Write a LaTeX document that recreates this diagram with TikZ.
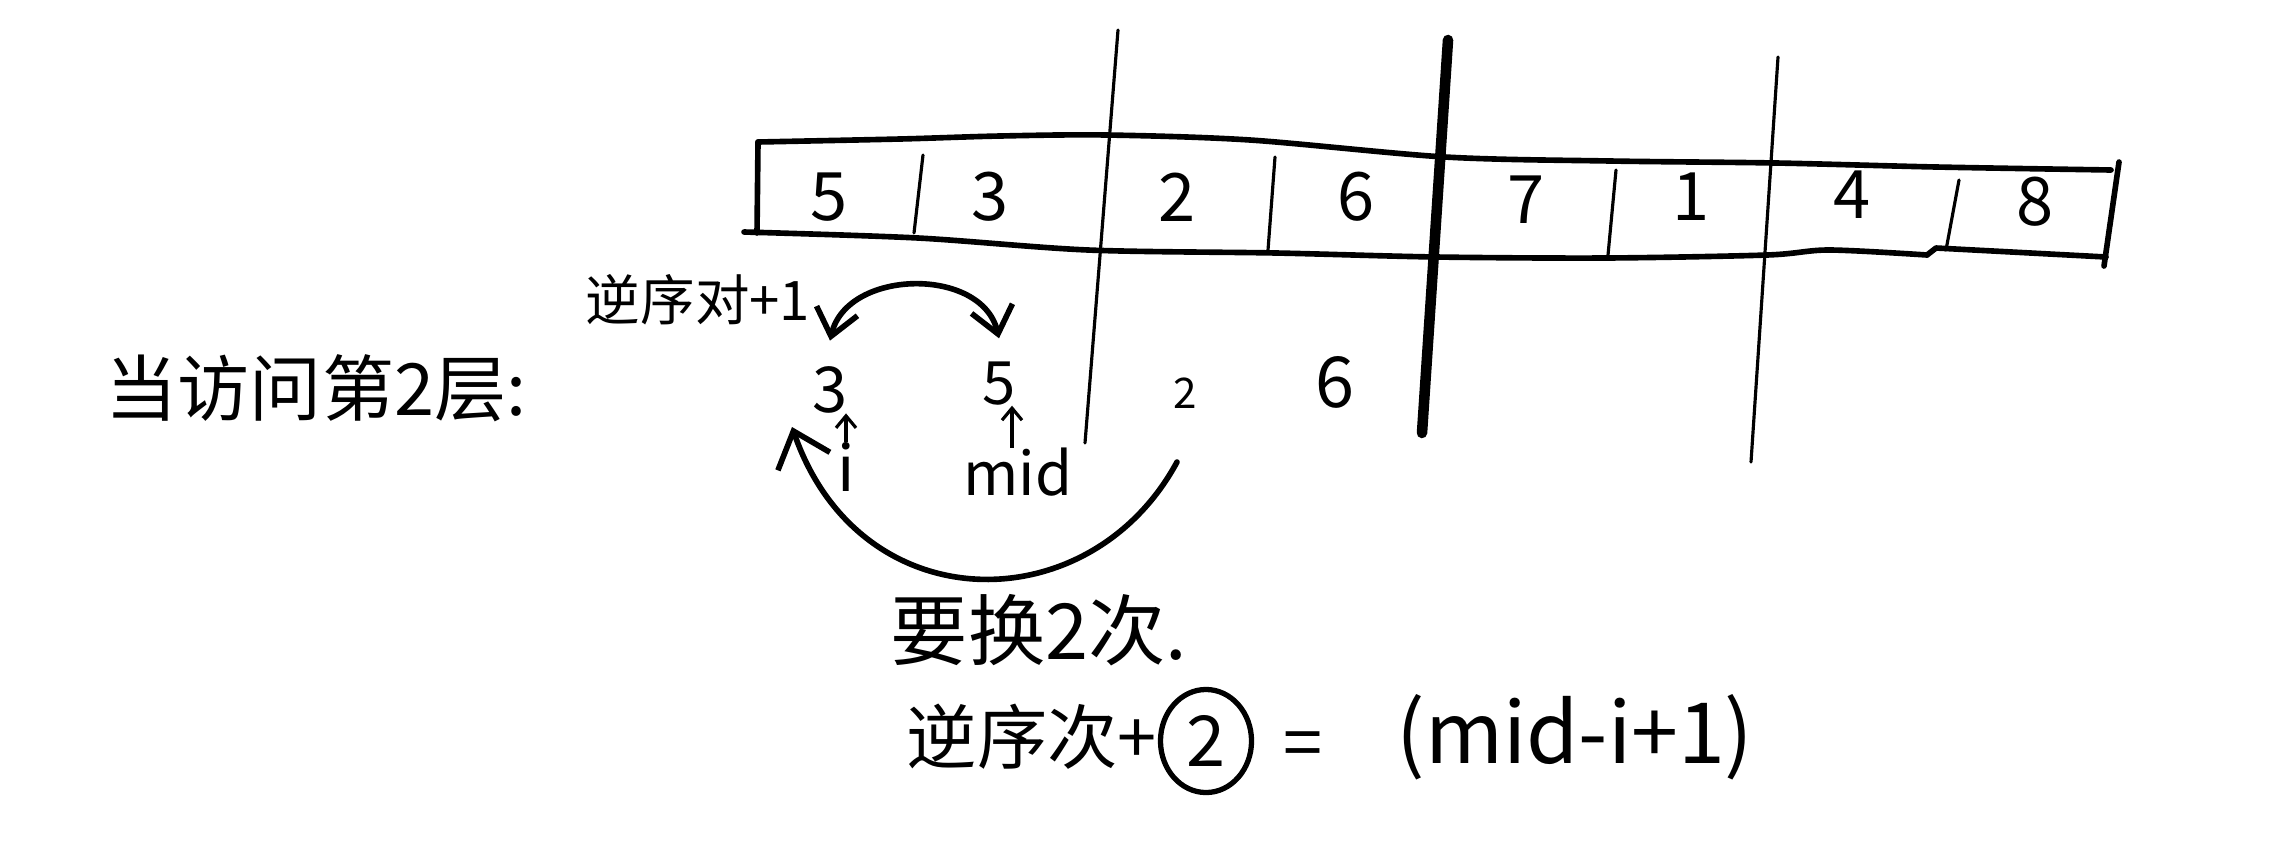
\documentclass[tikz,border=0pt]{standalone}
\usepackage{fontspec}
\setmainfont{Noto Sans CJK SC}
\usetikzlibrary{arrows.meta,shapes.geometric}
\newcommand{\fs}[1]{\fontsize{#1}{#1}\selectfont}
\tikzset{
  hand/.style={line width=1.6pt, line cap=round, line join=round},
  thinline/.style={line width=0.9pt, line cap=round},
  boldline/.style={line width=3pt, line cap=round},
  lbl/.style={inner sep=0pt, outer sep=0pt},
  cell/.style={lbl, font=\fs{19pt}},
  swaparrow/.style={hand, -{Straight Barb[length=3.2mm,width=5.5mm]}},
  bothways/.style={hand, {Straight Barb[length=2.6mm,width=4.2mm]}-{Straight Barb[length=2.6mm,width=4.2mm]}},
  tinyarrow/.style={line width=0.9pt, -{Straight Barb[length=1.2mm,width=2mm]}},
}
\begin{document}
\begin{tikzpicture}[x=0.01cm,y=-0.01cm]
\useasboundingbox (0,0) rectangle (2294,851);
\fill[white] (0,0) rectangle (2294,851);

% array box (hand drawn)
\draw[hand] plot[smooth] coordinates {(758,142) (900,139) (1000,136) (1106,135) (1250,140) (1445,157) (1610,161) (1776,163) (1936,167) (2111,170)};
\draw[hand] plot[smooth] coordinates {(744,232) (918,238) (1088,250) (1276,253) (1436,257) (1606,258) (1767,255) (1829,250) (1927,255)};
\draw[hand] (1927,255) -- (1936,248) -- (2106,257);
\draw[hand] (758,142) -- (757,233);
\draw[hand] (2119,162) -- (2104,266);
% cell dividers
\draw[thinline] (923,155) -- (914,233);
\draw[thinline] (1275,157) -- (1268,250);
\draw[thinline] (1616,170) -- (1608,255);
\draw[thinline] (1959,180) -- (1946,250);
% long split lines
\draw[thinline] (1118,30) -- (1085,443);
\draw[boldline] (1448,40) -- (1422,433);
\draw[thinline] (1778,57) -- (1751,462);

% array values
\node[cell] (a1) at (829,197) {5};
\node[cell] (a2) at (990,197) {3};
\node[cell] (a3) at (1177,197) {2};
\node[cell] (a4) at (1356,197) {6};
\node[cell] (a5) at (1526,200) {7};
\node[cell] (a6) at (1691,197) {1};
\node[cell] (a7) at (1852,195) {4};
\node[cell] (a8) at (2035,202) {8};

% title
\node[lbl, font=\fs{20.5pt}] (title) at (316,388) {当访问第2层:};

% second level values
\node[lbl, font=\fs{18pt}] (n3) at (830,390) {3};
\node[lbl, font=\fs{17pt}] (n5) at (999,384) {5};
\node[lbl, font=\fs{12pt}] (n2) at (1185,393) {2};
\node[lbl, font=\fs{20pt}] (n6) at (1335,382) {6};
\node[lbl, font=\fs{18pt}] (ni) at (846,467) {i};
\node[lbl, font=\fs{17pt}] (nmid) at (1018,472) {mid};

\draw[tinyarrow] (ni.north) -- (ni.north |- n3.south);
\draw[tinyarrow] ([xshift=-0.06cm]nmid.north) -- ([xshift=-0.06cm]nmid.north |- n5.south);

% reverse pair label and swap arcs
\node[lbl, font=\fs{15.5pt}] (rp) at (698,300) {逆序对+1};
\draw[bothways] ([yshift=0.26cm]n3.north) .. controls +(17,-72) and +(-17,-72) .. ([yshift=0.24cm]n5.north);

\coordinate (swapS) at (1177,462);
\coordinate (swapE) at (792,427);
\draw[swaparrow] (swapS) .. controls (1090,623) and (860,623) .. (swapE);

% bottom texts
\node[lbl, font=\fs{22pt}] (twice) at (1039,630) {要换2次.};
\node[lbl, font=\fs{20pt}] (cnt) at (1032,737) {逆序次+};
\node[lbl, draw, line width=1.5pt, ellipse, minimum width=0.91cm, minimum height=1.03cm, font=\fs{20pt}] (c2) at (1206,741) {2};
\node[lbl, font=\fs{20pt}] (eq) at (1303,750) {=};
\node[lbl, font=\fs{24pt}] (form) at (1575,737) {(mid-i+1)};
\end{tikzpicture}
\end{document}
